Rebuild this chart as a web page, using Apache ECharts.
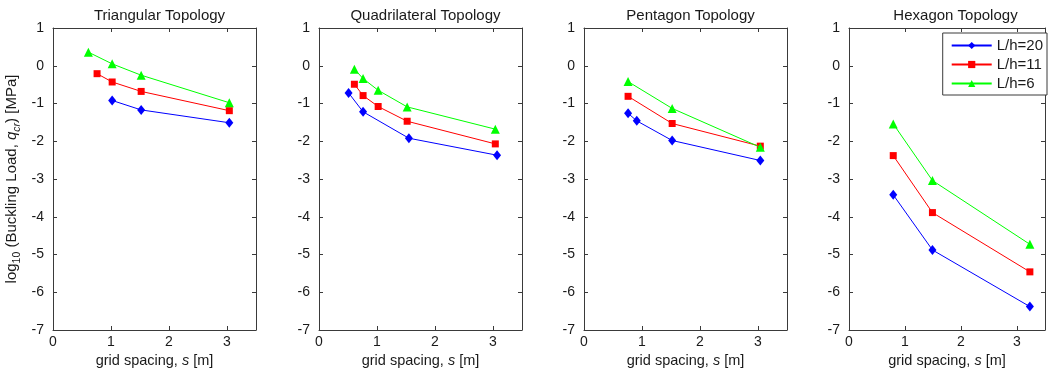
<!DOCTYPE html>
<html>
<head>
<meta charset="utf-8">
<script src="https://cdn.jsdelivr.net/npm/echarts@6/dist/echarts.min.js"></script>
<style>
html,body{margin:0;padding:0;background:#fff;}
#c{width:1048px;height:376px;}
</style>
</head>
<body>
<div id="c"></div>
<script>
// ---- data ----
const panelTitles = ['Triangular Topology', 'Quadrilateral Topology', 'Pentagon Topology', 'Hexagon Topology'];
const seriesNames = ['L/h=20', 'L/h=11', 'L/h=6'];
const xTicks = [0, 1, 2, 3];
const yTicks = [1, 0, -1, -2, -3, -4, -5, -6, -7];

// Triangular
const triL20x = [1.02, 1.52, 3.04], triL20y = [-0.92, -1.17, -1.51];
const triL11x = [0.76, 1.02, 1.52, 3.04], triL11y = [-0.21, -0.43, -0.68, -1.19];
const triL6x = [0.61, 1.02, 1.52, 3.04], triL6y = [0.36, 0.05, -0.25, -0.98];
// Quadrilateral
const quadL20x = [0.51, 0.76, 1.55, 3.07], quadL20y = [-0.72, -1.22, -1.92, -2.37];
const quadL11x = [0.61, 0.76, 1.02, 1.52, 3.04], quadL11y = [-0.49, -0.79, -1.08, -1.47, -2.07];
const quadL6x = [0.61, 0.76, 1.02, 1.52, 3.04], quadL6y = [-0.09, -0.34, -0.65, -1.09, -1.68];
// Pentagon
const pentL20x = [0.76, 0.91, 1.52, 3.04], pentL20y = [-1.26, -1.46, -1.98, -2.51];
const pentL11x = [0.76, 1.52, 3.04], pentL11y = [-0.81, -1.53, -2.13];
const pentL6x = [0.76, 1.52, 3.04], pentL6y = [-0.42, -1.13, -2.16];
// Hexagon
const hexL20x = [0.79, 1.49, 3.23], hexL20y = [-3.42, -4.88, -6.38];
const hexL11x = [0.79, 1.49, 3.23], hexL11y = [-2.38, -3.89, -5.46];
const hexL6x = [0.79, 1.49, 3.23], hexL6y = [-1.54, -3.04, -4.73];

const panelData = [
  [[triL20x, triL20y], [triL11x, triL11y], [triL6x, triL6y]],
  [[quadL20x, quadL20y], [quadL11x, quadL11y], [quadL6x, quadL6y]],
  [[pentL20x, pentL20y], [pentL11x, pentL11y], [pentL6x, pentL6y]],
  [[hexL20x, hexL20y], [hexL11x, hexL11y], [hexL6x, hexL6y]]
];

// ---- styles ----
const FONT = 'Liberation Sans, Arial, sans-serif';
const TXT = '#1a1a1a';
const AX = '#3a3a3a';
const colors = ['#0000ff', '#ff0000', '#00ff00'];
const symbols = ['diamond', 'rect', 'triangle'];
const symSizes = [[8, 10], 7, 9];
const lefts = [53, 319, 584, 849];
const W = 203, TOP = 28, H = 302;
const TICK_FS = 14, NAME_FS = 14.5, TITLE_FS = 15;

const grids = [], xAxes = [], yAxes = [], series = [], titles = [];
const xFmt = v => (xTicks.indexOf(v) >= 0 ? String(v) : '');
const yFmt = v => (yTicks.indexOf(v) >= 0 ? String(v) : '');

for (let p = 0; p < 4; p++) {
  grids.push({ left: lefts[p], top: TOP, width: W, height: H });
  titles.push({
    text: panelTitles[p], left: lefts[p] + W / 2, top: 3, textAlign: 'center',
    textStyle: { fontFamily: FONT, fontSize: TITLE_FS, fontWeight: 'normal', color: TXT }
  });
  const baseAxisLine = { show: true, onZero: false, lineStyle: { color: AX, width: 1 } };
  const tick = { show: true, inside: true, length: 4, lineStyle: { color: AX } };
  xAxes.push({
    type: 'value', gridIndex: p, min: 0, max: 3.5, interval: 1, position: 'bottom',
    axisLine: baseAxisLine, axisTick: tick, splitLine: { show: false },
    axisLabel: { formatter: xFmt, margin: 5, fontFamily: FONT, fontSize: TICK_FS, color: TXT },
    name: 'grid spacing, {i|s} [m]', nameLocation: 'middle', nameGap: 21,
    nameTextStyle: {
      fontFamily: FONT, fontSize: NAME_FS, color: TXT,
      rich: { i: { fontFamily: FONT, fontSize: NAME_FS, color: TXT, fontStyle: 'italic' } }
    }
  });
  xAxes.push({
    type: 'value', gridIndex: p, min: 0, max: 3.5, interval: 1, position: 'top',
    axisLine: baseAxisLine, axisTick: tick, splitLine: { show: false }, axisLabel: { show: false }
  });
  const yLeft = {
    type: 'value', gridIndex: p, min: -7, max: 1, interval: 1, position: 'left',
    axisLine: baseAxisLine, axisTick: tick, splitLine: { show: false },
    axisLabel: { formatter: yFmt, margin: 9, fontFamily: FONT, fontSize: TICK_FS, color: TXT }
  };
  if (p === 0) {
    yLeft.name = 'log{sub|10} (Buckling Load, {i|q}{isub|cr}) [MPa]';
    yLeft.nameLocation = 'middle';
    yLeft.nameRotate = 90;
    yLeft.nameGap = 30;
    yLeft.nameTextStyle = {
      fontFamily: FONT, fontSize: 15, color: TXT,
      rich: {
        sub: { fontFamily: FONT, fontSize: 10.5, color: TXT, verticalAlign: 'bottom', lineHeight: 22 },
        i: { fontFamily: FONT, fontSize: 15, color: TXT, fontStyle: 'italic' },
        isub: { fontFamily: FONT, fontSize: 10.5, color: TXT, fontStyle: 'italic', verticalAlign: 'bottom', lineHeight: 22 }
      }
    };
  }
  yAxes.push(yLeft);
  yAxes.push({
    type: 'value', gridIndex: p, min: -7, max: 1, interval: 1, position: 'right',
    axisLine: baseAxisLine, axisTick: tick, splitLine: { show: false }, axisLabel: { show: false }
  });
  for (let s = 0; s < 3; s++) {
    const [xs, ys] = panelData[p][s];
    series.push({
      type: 'line', name: seriesNames[s], xAxisIndex: p * 2, yAxisIndex: p * 2,
      data: xs.map((x, i) => [x, ys[i]]),
      symbol: symbols[s], symbolSize: symSizes[s], showSymbol: true,
      lineStyle: { color: colors[s], width: 1 },
      itemStyle: { color: colors[s], borderWidth: 0 },
      animation: false, silent: true, z: 2 + s
    });
  }
}

const chart = echarts.init(document.getElementById('c'), null, { renderer: 'canvas' });
chart.setOption({
  animation: false,
  backgroundColor: '#fff',
  title: titles,
  grid: grids,
  xAxis: xAxes,
  yAxis: yAxes,
  legend: {
    data: seriesNames, orient: 'vertical', right: 1, top: 33,
    backgroundColor: '#fff', borderColor: AX, borderWidth: 1,
    padding: [5, 4, 4, 8], itemGap: 4, itemWidth: 40, itemHeight: 9,
    textStyle: { fontFamily: FONT, fontSize: 15, color: TXT }, selectedMode: false
  },
  series: series
});
</script>
</body>
</html>
